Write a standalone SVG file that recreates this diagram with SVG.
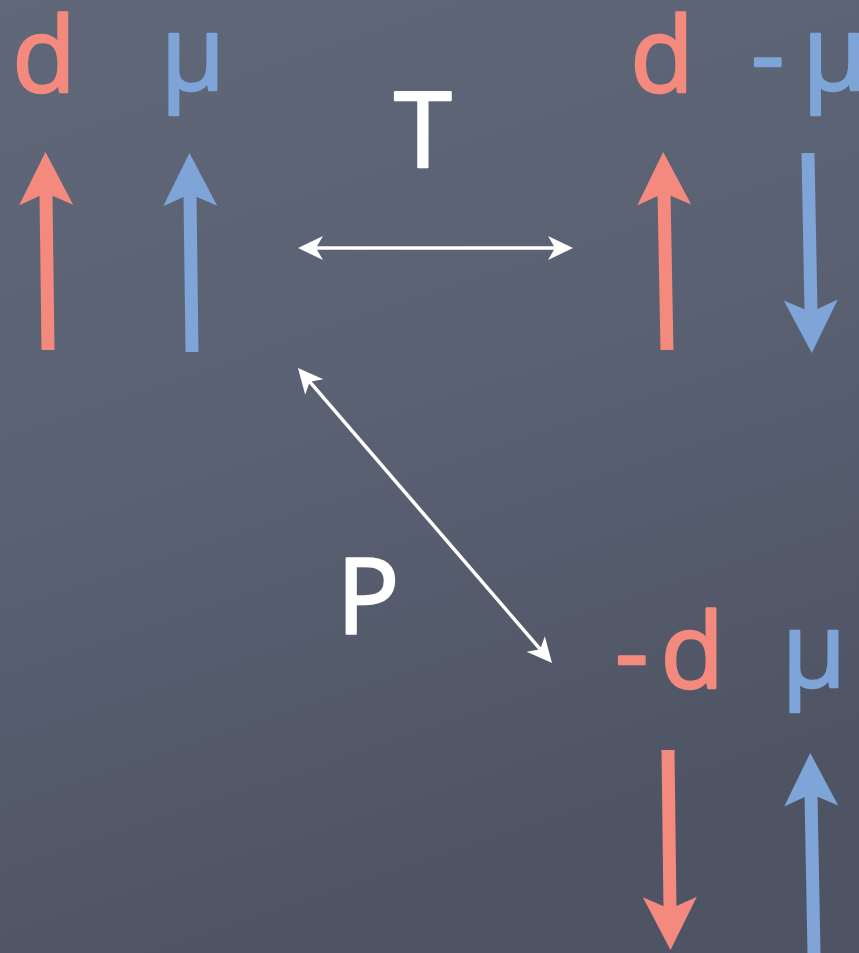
<svg xmlns="http://www.w3.org/2000/svg" width="859" height="953" viewBox="0 0 859 953">
<style>
.lbl{font-family:"Open Sans","DejaVu Sans",sans-serif;font-size:104px;text-anchor:middle;stroke-width:2.5;stroke-linejoin:round}
.red{fill:#f48a7e;stroke:#f48a7e}
.blue{fill:#7ea4d8;stroke:#7ea4d8}
.white{fill:#ffffff;stroke:#ffffff}
.rs{stroke:#f48a7e;stroke-width:13;fill:none}
.bs{stroke:#7ea4d8;stroke-width:13;fill:none}
.ws{stroke:#ffffff;stroke-width:3.5;fill:none}
</style>
<defs>
<linearGradient id="bg" x1="0" y1="0" x2="0.3" y2="1">
<stop offset="0" stop-color="#606778"/>
<stop offset="0.5" stop-color="#5a6172"/>
<stop offset="1" stop-color="#4e5464"/>
</linearGradient>
<marker id="hr" markerUnits="userSpaceOnUse" orient="auto" markerWidth="80" markerHeight="80" refX="0" refY="0" viewBox="-20 -40 80 80" overflow="visible">
<path d="M41,0 L-12,-27 L0,0 L-12,27 Z" fill="#f48a7e"/>
</marker>
<marker id="hb" markerUnits="userSpaceOnUse" orient="auto" markerWidth="80" markerHeight="80" refX="0" refY="0" viewBox="-20 -40 80 80" overflow="visible">
<path d="M41,0 L-12,-27 L0,0 L-12,27 Z" fill="#7ea4d8"/>
</marker>
<marker id="hw" markerUnits="userSpaceOnUse" orient="auto-start-reverse" markerWidth="40" markerHeight="40" refX="0" refY="0" viewBox="-20 -20 40 40" overflow="visible">
<path d="M8,0 L-17,-12 L-10,0 L-17,12 Z" fill="#ffffff"/>
</marker>
</defs>
<rect width="859" height="953" fill="url(#bg)"/>

<g id="state-original">
<text class="lbl red" x="44" y="92">d</text>
<text class="lbl blue" x="193" y="90">μ</text>
<line id="spin-d1" class="rs" x1="48" y1="350" x2="46" y2="193" marker-end="url(#hr)"/>
<line id="spin-mu1" class="bs" x1="192" y1="352" x2="190" y2="194" marker-end="url(#hb)"/>
</g>

<g id="state-T">
<text class="lbl red" x="662" y="92">d</text>
<text class="lbl blue" x="751" y="90" style="text-anchor:start">-<tspan dx="18">μ</tspan></text>
<line id="spin-d2" class="rs" x1="667" y1="350" x2="664" y2="193" marker-end="url(#hr)"/>
<line id="spin-mu2" class="bs" x1="808" y1="153" x2="811" y2="312" marker-end="url(#hb)"/>
</g>

<g id="state-P">
<text class="lbl red" x="615" y="688" style="text-anchor:start">-<tspan dx="12">d</tspan></text>
<text class="lbl blue" x="814" y="687">μ</text>
<line id="spin-d3" class="rs" x1="668" y1="750" x2="670" y2="909" marker-end="url(#hr)"/>
<line id="spin-mu3" class="bs" x1="814" y1="953" x2="811" y2="794" marker-end="url(#hb)"/>
</g>

<g id="connectors">
<line id="conn-T" class="ws" x1="306" y1="248" x2="565" y2="248" marker-start="url(#hw)" marker-end="url(#hw)"/>
<line id="conn-P" class="ws" x1="303.2" y1="374.1" x2="546.8" y2="656.9" marker-start="url(#hw)" marker-end="url(#hw)"/>
<text class="lbl white" x="423" y="167">T</text>
<text class="lbl white" x="368" y="633">P</text>
</g>
</svg>
